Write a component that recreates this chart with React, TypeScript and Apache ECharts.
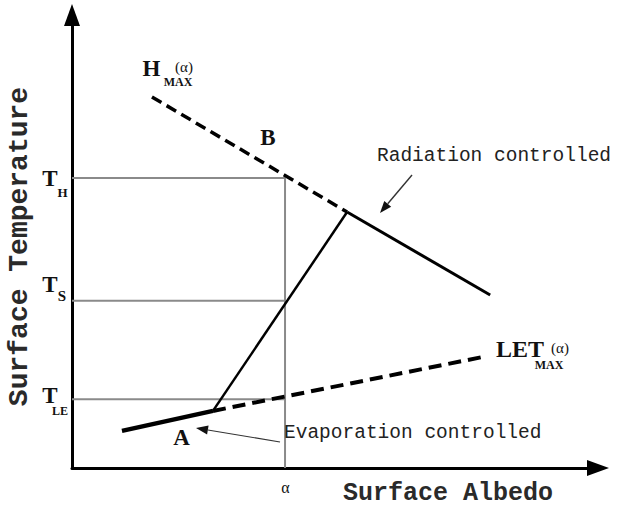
import React, { useEffect, useRef } from "react";
import * as echarts from "echarts";

// ---- data (schematic axis units: albedo 0-100, temperature 0-100) ----
const alphaValue = 40.5;
const tempLevels = [64.0, 36.9, 15.2]; // T_H, T_S, T_LE
const tempLevelMain = ["T", "T", "T"];
const tempLevelSub = ["H", "S", "LE"];
const alphaTickLabel = "α";

const hMaxDashed = [[15.2, 81.9], [52.3, 56.5]];
const radiationControlled = [[52.3, 56.5], [79.5, 38.2]];
const transitionLine = [[26.8, 12.6], [52.3, 56.5]];
const letMaxDashed = [[26.8, 12.6], [78.9, 24.7]];
const evaporationControlled = [[9.5, 8.2], [26.8, 12.6]];

const xAxisTitle = "Surface Albedo";
const yAxisTitle = "Surface Temperature";

const MONO = "'Liberation Mono', 'Courier New', monospace";
const SERIF = "'Liberation Serif', 'Times New Roman', serif";

function arrowHead(tip: number[], tail: number[], len: number, wid: number) {
  const dx = tip[0] - tail[0];
  const dy = tip[1] - tail[1];
  const d = Math.hypot(dx, dy);
  const ux = dx / d;
  const uy = dy / d;
  const bx = tip[0] - ux * len;
  const by = tip[1] - uy * len;
  return {
    base: [bx, by],
    pts: [
      [tip[0], tip[1]],
      [bx - (uy * wid) / 2, by + (ux * wid) / 2],
      [bx + (uy * wid) / 2, by - (ux * wid) / 2],
    ],
  };
}

function txt(
  text: string,
  x: number,
  y: number,
  size: number,
  opts: { bold?: boolean; family?: string; align?: string; fill?: string } = {}
) {
  const align = opts.align || "center";
  return {
    type: "text",
    x,
    y,
    silent: true,
    z: 10,
    style: {
      text,
      fill: opts.fill || "#111",
      fontSize: size,
      fontFamily: opts.family || SERIF,
      fontWeight: opts.bold ? "bold" : "normal",
      align,
      textAlign: align,
      verticalAlign: "middle",
      textVerticalAlign: "middle",
    },
  };
}

export default function App() {
  const ref = useRef<HTMLDivElement>(null);
  useEffect(() => {
    const chart = echarts.init(ref.current!, null, { renderer: "svg" });

    const line = (data: number[][], width: number, dash?: number[], color = "#000") => ({
      type: "line",
      data,
      symbol: "none",
      silent: true,
      lineStyle: { color, width, type: dash || "solid", cap: "butt" },
    });

    const guides = [
      ...tempLevels.map((t) => line([[0, t], [alphaValue, t]], 2, undefined, "#8a8a8a")),
      line([[alphaValue, 0], [alphaValue, tempLevels[0]]], 2, undefined, "#8a8a8a"),
    ];

    const axisCommon = {
      type: "value",
      min: 0,
      max: 100,
      splitLine: { show: false },
      axisTick: { show: false },
      axisLabel: { show: false },
      axisLine: {
        show: true,
        symbol: ["none", "triangle"],
        symbolSize: [16, 22],
        lineStyle: { color: "#000", width: 3 },
      },
      nameLocation: "middle",
    };

    chart.setOption({
      animation: false,
      backgroundColor: "#fff",
      grid: { left: 72, right: 19, top: 15, bottom: 42, outerBoundsMode: "none" },
      xAxis: {
        ...axisCommon,
        name: xAxisTitle,
        nameGap: 13,
        nameTextStyle: {
          fontFamily: MONO,
          fontSize: 25,
          fontWeight: "bold",
          color: "#2a2a2a",
          padding: [0, 0, 0, 226],
        },
      },
      yAxis: {
        ...axisCommon,
        name: yAxisTitle,
        nameRotate: 90,
        nameGap: 39,
        nameTextStyle: {
          fontFamily: MONO,
          fontSize: 28,
          fontWeight: "bold",
          color: "#2a2a2a",
          padding: [0, 10, 0, 0],
        },
      },
      series: [
        ...guides,
        line(hMaxDashed, 3.5, [11, 6]),
        line(radiationControlled, 3),
        line(transitionLine, 2.5),
        line(letMaxDashed, 4, [13, 7]),
        line(evaporationControlled, 4.5),
      ],
    });

    const px = (x: number, y: number) => chart.convertToPixel({ gridIndex: 0 }, [x, y]) as number[];

    const graphics: any[] = [];
    // y tick labels (T with subscripts)
    const tOffsets = [0.5, -16, -4];
    const subOffsets = [[12.5, 14.5], [12, -5], [10, 12]];
    const subSizes = [13, 15, 12];
    tempLevels.forEach((t, i) => {
      const p = px(0, t);
      graphics.push(txt(tempLevelMain[i], 50, p[1] + tOffsets[i], 23, { bold: true }));
      graphics.push(
        txt(tempLevelSub[i], 50 + subOffsets[i][0], p[1] + subOffsets[i][1], subSizes[i], { bold: true })
      );
    });
    // x tick label
    const pa = px(alphaValue, 0);
    graphics.push(txt(alphaTickLabel, pa[0] + 0.5, pa[1] + 19.5, 16));

    // annotations
    graphics.push(txt("H", 151.5, 68.5, 23, { bold: true }));
    graphics.push(txt("(α)", 184, 67, 15));
    graphics.push(txt("MAX", 178, 82, 12, { bold: true }));
    graphics.push(txt("B", 268, 137, 23, { bold: true }));
    graphics.push(txt("Radiation controlled", 377, 156, 19.5, { align: "left", fill: "#222", family: MONO }));
    graphics.push(txt("LET", 520, 349, 24, { bold: true }));
    graphics.push(txt("(α)", 560, 348, 15));
    graphics.push(txt("MAX", 549, 365, 12, { bold: true }));
    graphics.push(txt("A", 181.5, 437, 23, { bold: true }));
    graphics.push(txt("Evaporation controlled", 284, 433, 19.5, { align: "left", fill: "#222", family: MONO }));

    const arrows = [
      { tail: [412, 175], tip: [380, 213], width: 1.4 },
      { tail: [280, 442], tip: [196, 428], width: 1.2 },
    ];
    arrows.forEach((a) => {
      const h = arrowHead(a.tip, a.tail, 12, 9);
      graphics.push({
        type: "line",
        silent: true,
        z: 10,
        shape: { x1: a.tail[0], y1: a.tail[1], x2: h.base[0], y2: h.base[1] },
        style: { stroke: "#333", lineWidth: a.width },
      });
      graphics.push({
        type: "polygon",
        silent: true,
        z: 10,
        shape: { points: h.pts },
        style: { fill: "#111" },
      });
    });

    chart.setOption({ graphic: graphics });

    return () => chart.dispose();
  }, []);

  return (
    <div
      ref={ref}
      style={{ position: "fixed", left: 0, top: 0, width: 617, height: 510, background: "#fff" }}
    />
  );
}
